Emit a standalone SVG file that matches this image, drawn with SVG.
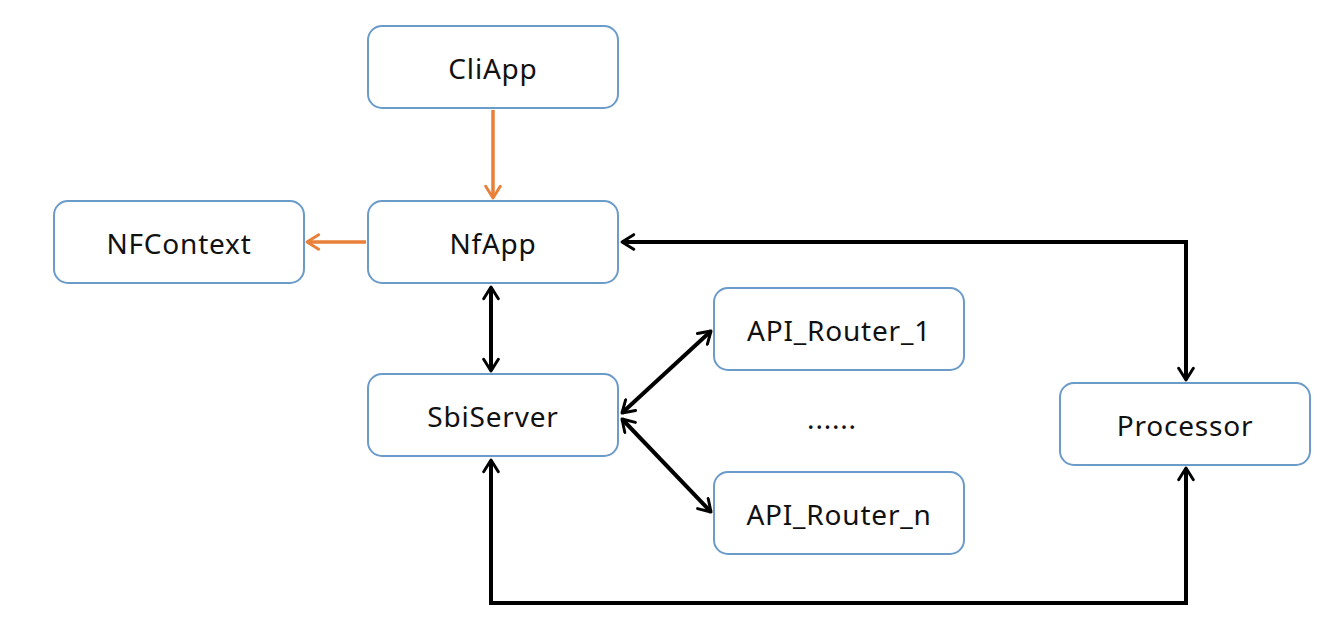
<svg xmlns="http://www.w3.org/2000/svg" width="1339" height="642" viewBox="0 0 1339 642">
<style>
.box{fill:#fff;stroke:#6b9bc9;stroke-width:2}
.lbl{font-family:"Noto Sans","Open Sans",sans-serif;font-size:28px;letter-spacing:0.8px;fill:#111;text-anchor:middle;dominant-baseline:central}
.blk{fill:none;stroke:#000;stroke-width:4}
.org{fill:none;stroke:#e8803a;stroke-width:3.5}
</style>
<defs>
<marker id="ab" viewBox="0 0 12 12" refX="10" refY="6" markerWidth="4.4" markerHeight="4.4" orient="auto-start-reverse" markerUnits="strokeWidth">
<path d="M2,1 L10,6 L2,11" fill="none" stroke="#000" stroke-width="2" stroke-linecap="round" stroke-linejoin="round"/>
</marker>
<marker id="ao" viewBox="0 0 12 12" refX="10" refY="6" markerWidth="5" markerHeight="5" orient="auto" markerUnits="strokeWidth">
<path d="M2,1 L10,6 L2,11" fill="none" stroke="#e8803a" stroke-width="2" stroke-linecap="round" stroke-linejoin="round"/>
</marker>
</defs>
<g id="connectors">
<line class="org" x1="493" y1="110" x2="493" y2="198" marker-end="url(#ao)"/>
<line class="org" x1="366" y1="242" x2="307" y2="242" marker-end="url(#ao)"/>
<line class="blk" x1="491" y1="287" x2="491" y2="371" marker-start="url(#ab)" marker-end="url(#ab)"/>
<polyline class="blk" points="622,242 1186,242 1186,380" marker-start="url(#ab)" marker-end="url(#ab)"/>
<line class="blk" x1="622" y1="413" x2="711" y2="331" marker-start="url(#ab)" marker-end="url(#ab)"/>
<line class="blk" x1="622" y1="419" x2="711" y2="512" marker-start="url(#ab)" marker-end="url(#ab)"/>
<polyline class="blk" points="491,460 491,603 1186,603 1186,468" marker-start="url(#ab)" marker-end="url(#ab)"/>
</g>
<g id="cliapp"><rect class="box" x="368" y="26" width="250" height="82" rx="14"/><text class="lbl" x="493" y="68">CliApp</text></g>
<g id="nfapp"><rect class="box" x="368" y="201" width="250" height="82" rx="14"/><text class="lbl" x="493" y="243">NfApp</text></g>
<g id="nfcontext"><rect class="box" x="54" y="201" width="250" height="82" rx="14"/><text class="lbl" x="179" y="243">NFContext</text></g>
<g id="sbiserver"><rect class="box" x="368" y="374" width="250" height="82" rx="14"/><text class="lbl" x="493" y="416">SbiServer</text></g>
<g id="router1"><rect class="box" x="714" y="288" width="250" height="82" rx="14"/><text class="lbl" x="839" y="330">API_Router_1</text></g>
<g id="ellipsis"><text class="lbl" x="832" y="418">......</text></g>
<g id="routern"><rect class="box" x="714" y="472" width="250" height="82" rx="14"/><text class="lbl" x="839" y="514">API_Router_n</text></g>
<g id="processor"><rect class="box" x="1060" y="383" width="250" height="82" rx="14"/><text class="lbl" x="1185" y="425">Processor</text></g>
</svg>
